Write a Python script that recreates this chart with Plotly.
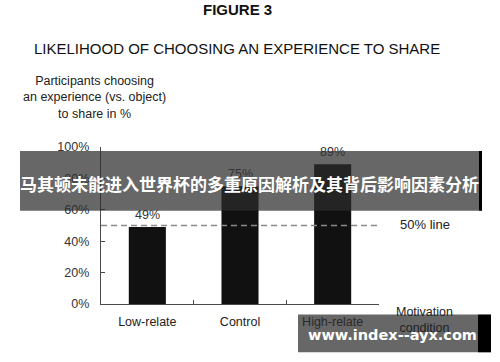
import plotly.graph_objects as go

categories = ["Low-relate", "Control", "High-relate"]
values = [49, 75, 89]
value_labels = ["49%", "75%", "89%"]
y_ticks = [0, 20, 40, 60, 80, 100]
y_tick_labels = ["0%", "20%", "40%", "60%", "80%", "100%"]
reference_level = 50

W, H = 500, 362
L, R, T, B = 101, 121, 147, 57.5
PW, PH = W - L - R, H - T - B

def px_x(px):
    return (px - L) / PW

def px_y(py):
    return (H - B - py) / PH

FONT = "Liberation Sans, Arial, Helvetica, sans-serif"
AX = "#4a4a4a"

fig = go.Figure()
fig.add_trace(go.Bar(
    x=list(range(len(categories))), y=values,
    width=0.4, marker=dict(color="#111111", line=dict(width=0)),
    hoverinfo="skip", showlegend=False,
))
# invisible trace for the overlay tick axis
fig.add_trace(go.Scatter(x=[0.5, 1.5, 2.5], y=[0, 0, 0], xaxis="x2", mode="markers",
                         marker=dict(opacity=0), hoverinfo="skip", showlegend=False))

for i, (v, lab) in enumerate(zip(values, value_labels)):
    fig.add_annotation(x=i, y=v, text=lab, showarrow=False, yanchor="bottom", yshift=3,
                       font=dict(family=FONT, size=12.5, color="#333"))

fig.add_shape(type="line", xref="x", yref="y", x0=-0.5, x1=2.5,
              y0=reference_level, y1=reference_level,
              line=dict(color="#8a8a8a", width=1.5, dash="6px,4px"))

fig.update_layout(
    width=W, height=H,
    margin=dict(l=L, r=R, t=T, b=B, pad=0),
    paper_bgcolor="white", plot_bgcolor="white",
    xaxis=dict(range=[-0.5, 2.5], tickvals=list(range(len(categories))), ticktext=categories,
               ticks="", showline=True, linecolor=AX, linewidth=1.3, showgrid=False,
               zeroline=False, tickfont=dict(family=FONT, size=12.5, color="#222"),
               ticklabelstandoff=6),
    xaxis2=dict(range=[-0.5, 2.5], overlaying="x", anchor="y", tickvals=[0.5, 1.5, 2.5],
                ticks="inside", ticklen=4, tickcolor=AX, tickwidth=1.3, showticklabels=False,
                showline=False, showgrid=False, zeroline=False, side="bottom"),
    yaxis=dict(range=[0, 100], tickvals=y_ticks, ticktext=y_tick_labels, ticks="inside", ticklen=4,
               tickcolor=AX, tickwidth=1.3, showline=True, linecolor=AX, linewidth=1.3,
               showgrid=False, zeroline=False, tickfont=dict(family=FONT, size=12.5, color="#333"),
               ticklabelstandoff=8),
)

def note(x, y, text, size, family=FONT, color="#222", **kw):
    fig.add_annotation(xref="paper", yref="paper", x=px_x(x), y=px_y(y), text=text,
                       showarrow=False, xanchor=kw.pop("xanchor", "center"), yanchor="middle",
                       align="center", font=dict(family=family, size=size, color=color), **kw)

# Titles
note(237.5, 9, "<b>FIGURE 3</b>", 15, color="#111")
note(237, 48, "LIKELIHOOD OF CHOOSING AN EXPERIENCE TO SHARE", 15, color="#111")
note(94, 97, "Participants choosing<br>an experience (vs. object)<br>to share in %", 12.5)
note(398, 225, "50% line", 13, xanchor="left")
note(424, 321, "Motivation<br>condition", 12.5)

# Watermark band
fig.add_shape(type="rect", xref="paper", yref="paper", x0=px_x(20), x1=px_x(479),
              y0=px_y(211), y1=px_y(151), fillcolor="rgba(45,45,45,0.72)", line=dict(width=0),
              layer="above")
fig.add_shape(type="rect", xref="paper", yref="paper", x0=px_x(479), x1=px_x(482),
              y0=px_y(211), y1=px_y(151), fillcolor="black", line=dict(width=0), layer="above")
note(249, 184, "<b>马其顿未能进入世界杯的多重原因解析及其背后影响因素分析</b>", 17,
     family="Noto Sans CJK SC", color="white")

# Bottom watermark
fig.add_shape(type="rect", xref="paper", yref="paper", x0=px_x(298), x1=px_x(478),
              y0=px_y(353), y1=px_y(315), fillcolor="rgba(45,45,45,0.72)", line=dict(width=0),
              layer="above")
fig.add_shape(type="rect", xref="paper", yref="paper", x0=px_x(478), x1=px_x(491),
              y0=px_y(353), y1=px_y(315), fillcolor="black", line=dict(width=0), layer="above")
note(392, 336, "<b>www.index--ayx.com</b>", 14.5, family="DejaVu Sans", color="white")

fig.write_html("out.html", config={"displayModeBar": False},
               post_script="document.body.style.margin='0';")
